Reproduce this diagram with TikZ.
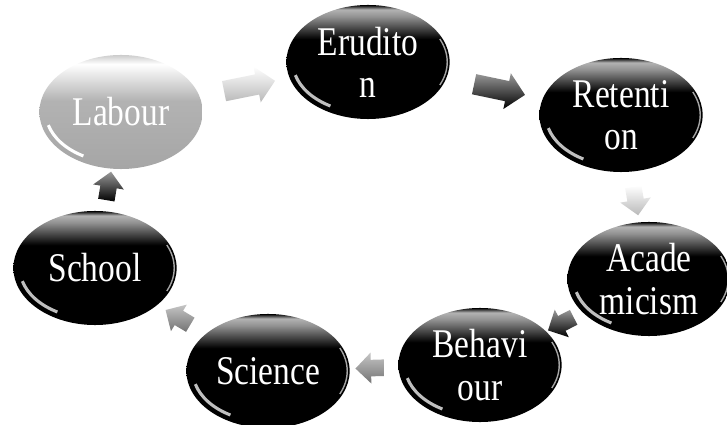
\documentclass[tikz,border=0pt]{standalone}
\usepackage{fontspec}
\usetikzlibrary{shapes.geometric,shapes.arrows}
\newfontfamily\bubblefont{Liberation Serif}[FakeStretch=0.82]

% glossy fills for the bubbles (25bp = bottom, 75bp = top of the node)
\pgfdeclareverticalshading{darkgloss}{100bp}{color(0bp)=(black); color(25bp)=(black);
  color(60bp)=(black); color(70bp)=(gray!85); color(73bp)=(gray!60); color(75bp)=(black);
  color(100bp)=(black)}
\pgfdeclareverticalshading{lightgloss}{100bp}{color(0bp)=(black!35); color(25bp)=(black!35);
  color(55bp)=(black!30); color(71bp)=(white); color(75bp)=(black!20);
  color(100bp)=(black!20)}

\begin{document}
\begin{tikzpicture}[x=0.025cm,y=-0.025cm,
    bubble/.style={ellipse,shading=darkgloss,text=white,inner sep=0pt,
      minimum width=4.08cm,minimum height=2.85cm,align=center,
      font=\bubblefont\fontsize{29}{30}\selectfont,
      path picture={
        \draw[white,opacity=0.75,line width=2.2pt]
          ([shift={(195:1.88cm and 1.27cm)}]path picture bounding box.center)
          arc[start angle=195,end angle=240,x radius=1.88cm,y radius=1.27cm];
        \draw[gray!70,line width=1pt]
          ([shift={(-25:1.98cm and 1.36cm)}]path picture bounding box.center)
          arc[start angle=-25,end angle=25,x radius=1.98cm,y radius=1.36cm];
      }},
    lightbubble/.style={bubble,shading=lightgloss,
      path picture={
        \draw[white,line width=2.2pt]
          ([shift={(195:1.88cm and 1.27cm)}]path picture bounding box.center)
          arc[start angle=195,end angle=240,x radius=1.88cm,y radius=1.27cm];
      }},
    flow/.style={single arrow,sloped,allow upside down,inner xsep=0pt},
    bigflow/.style={flow,inner ysep=0.25cm,minimum height=1.3cm,
      single arrow head extend=0.2cm},
    smallflow/.style={flow,inner ysep=0.2cm,minimum height=0.72cm,
      single arrow head extend=0.18cm},
    lightshade/.style={top color=white,bottom color=gray!55},
    darkshade/.style={top color=gray!80,bottom color=black},
    midshade/.style={top color=gray!45,bottom color=gray!90!black}]

  \useasboundingbox (0,0) rectangle (727,425);

  % --- bubbles ---
  \node[lightbubble] (lab) at (121,112) {Labour};
  \node[bubble] (eru) at (368,62) {Erudito\\n};
  \node[bubble] (ret) at (621,115) {Retenti\\on};
  \node[bubble] (aca) at (649,279) {Acade\\micism};
  \node[bubble] (beh) at (480,365) {Behavi\\our};
  \node[bubble] (sci) at (268,371) {Science};
  \node[bubble] (sch) at (95,268) {School};

  % --- arrows between bubbles ---
  \path (lab) -- node[bigflow,lightshade] (lab-eru) {} (eru);
  \path (eru) -- node[bigflow,darkshade] (eru-ret) {} (ret);
  \path (ret) -- node[smallflow,lightshade] (ret-aca) {} (aca);
  \path (aca) -- node[smallflow,darkshade] (aca-beh) {} (beh);
  \path (beh) -- node[smallflow,midshade] (beh-sci) {} (sci);
  \path (sci) -- node[smallflow,midshade] (sci-sch) {} (sch);
  \path (sch) -- node[smallflow,darkshade] (sch-lab) {} (lab);

\end{tikzpicture}
\end{document}
